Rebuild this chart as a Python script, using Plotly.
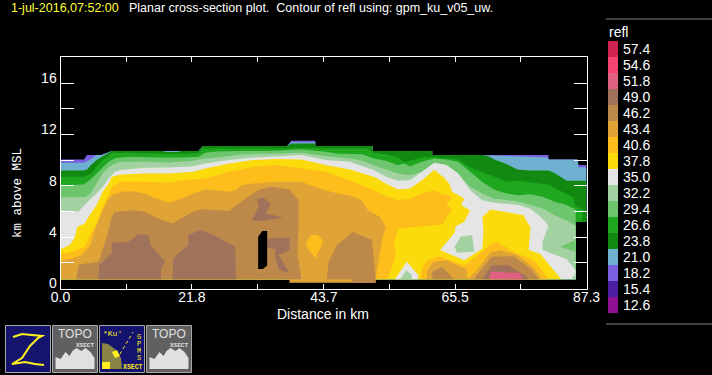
import plotly.graph_objects as go

# colour scale (legend top to bottom)
legend_labels = ["57.4","54.6","51.8","49.0","46.2","43.4","40.6","37.8","35.0","32.2","29.4","26.6","23.8","21.0","18.2","15.4","12.6"]
legend_colors = ["#D0234F","#F5446F","#DF6080","#A0725C","#BC894B","#E0A436","#FDBD1A","#FBDB0B","#E5E5E5","#A2D2A2","#6DC66D","#1FA81F","#128A12","#6FAFD0","#7A5FE0","#4B1FA0","#8F1090"]
COL = dict(zip(legend_labels, legend_colors))

x_ticks = [0, 10.91, 21.8, 32.74, 43.7, 54.56, 65.5, 76.39, 87.3]
x_text = ["0.0", "", "21.8", "", "43.7", "", "65.5", "", "87.3"]
y_ticks = [0, 2, 4, 6, 8, 10, 12, 14, 16, 18]
y_text = ["0", "", "4", "", "8", "", "12", "", "16", ""]

# contour outlines: (distance km, height km)
floor = [(85.5, .73), (0, .73)]
c18_2 = [(0,10.05),(3.9,10.05),(4.4,10.4),(6.8,10.4),(8.5,10.7),(22.9,10.7),(23.6,11.1),(37.6,11.1),(38.3,11.5),(42.3,11.5),(42.3,11.1),(51.8,11.1),(51.8,10.7),(61.7,10.7),(61.7,10.4),(81,10.4),(81,10.05),(85.8,10.05),(86,9.6),(87.3,9.6),(87.3,5.2),(85.5,5.2)]
c21_0 = [(0,9.8),(3.9,9.8),(4.8,10.0),(6,10.4),(6.8,10.4),(8.5,10.7),(22.9,10.7),(23.6,11.1),(37.6,11.1),(38.3,11.4),(42.3,11.4),(42.3,11.1),(51.8,11.1),(51.8,10.7),(61.7,10.7),(61.7,10.4),(72,10.35),(80.9,10.2),(81,10.05),(85.8,10.05),(86,9.45),(87.3,9.45),(87.3,5.2),(85.5,5.2)]
c23_8 = [(0,9.2),(3.9,9.2),(4.5,9.3),(5,9.6),(6,10),(7,10.3),(8,10.57),(8.5,10.7),(17,10.7),(17.5,10.63),(19.5,10.63),(20,10.7),(22.9,10.7),(23.6,11.1),(37.6,11.1),(38.3,11.3),(42.3,11.3),(42.3,11.1),(51.8,11.1),(51.8,10.7),(61.7,10.7),(61.7,10.4),(70,10.4),(71,10.3),(72,10.05),(74,9.7),(75.5,9.35),(76,9.25),(78,9.2),(81,9.2),(82,9.0),(84,8.4),(87.3,8.4),(87.3,5.2),(85.5,5.2)]
c26_6 = [(0,8.7),(3.9,8.7),(5,8.9),(6,9.5),(7,10),(8,10.3),(8.5,10.55),(12,10.55),(17,10.5),(20,10.5),(22.9,10.55),(23.6,10.9),(37.6,10.9),(40,10.95),(42.3,10.95),(44,10.9),(51,10.9),(52,10.55),(54,10.45),(56,10.2),(57,9.85),(58,9.95),(60,10.2),(61.7,10.25),(64,10.15),(66,10.05),(68,9.4),(70,9.05),(72,8.7),(74,8.3),(76,8.4),(78,8.25),(81,8.1),(83,7.6),(85,7.1),(85.5,6.4),(87.3,6.0),(87.3,5.2),(85.5,5.2)]
c29_4 = [(0,8.05),(3.9,8.1),(5,8.5),(6,8.96),(7,9.43),(8,9.87),(9,10.13),(10,10.2),(12,10.26),(16,10.2),(20,10.2),(22.9,10.26),(24,10.57),(26,10.67),(30,10.7),(36,10.73),(38,10.78),(40,10.83),(44,10.65),(46,10.5),(50,10.45),(52,10.13),(54,9.95),(56,9.6),(57,9.74),(58,9.5),(60,9.87),(62,10.13),(64,10.05),(66,9.87),(68,9.1),(70,8.3),(72,7.7),(74,7.4),(76,7.27),(78,7.35),(80,7.14),(82,6.75),(84,6.5),(85.5,6.15)]
c32_2 = [(0,7.1),(4,7.1),(5,7.4),(6,8.2),(7,8.96),(8,9.43),(9,9.74),(10,9.87),(14,9.87),(18,9.82),(20,9.87),(22,9.95),(24,10.13),(26,10.2),(30,10.44),(36,10.52),(40,10.57),(44,10.3),(48,10.13),(50,9.95),(52,9.6),(54,9.27),(56,8.96),(58,8.83),(60,9.09),(62,9.74),(64,9.66),(66,8.96),(68,7.92),(70,7.4),(72,7.0),(74,6.9),(76,6.75),(78,6.5),(80,6.23),(82,5.7),(84,5.3),(85.5,4.9)]
c35_0 = [(0,6.1),(3,6.0),(4,6.5),(5,7.0),(6,7.4),(7,7.9),(8,8.57),(9,9.09),(10,9.22),(14,9.4),(18,9.43),(22,9.53),(24,9.74),(28,10.0),(32,10.2),(36,10.3),(40,10.39),(44,10),(48,9.87),(52,9.22),(54,8.7),(56,8.39),(58,8.44),(60,9.09),(62,9.79),(64,9.61),(66,8.96),(68,7.66),(70,6.88),(72,6.67),(76,6.5),(78,6.2),(80,5.45),(81,4.86),(80.5,4.3),(80,3.6),(80,3.0),(84,2.3),(85.5,1.43)]
c37_8 = [(0,3.04),(1.5,3.38),(2.3,3.9),(2.8,4.8),(4,5.06),(5,5.84),(6,6.5),(7,7.53),(8,8.18),(8.5,8.7),(10,8.88),(14,8.96),(18,8.96),(22,9.09),(24,9.35),(28,9.74),(32,10.0),(36,10.08),(40,10.05),(44,9.61),(48,9.27),(52,8.7),(54,8.18),(56,7.71),(58,7.79),(60,8.44),(62,9.22),(63.5,8.7),(64.5,8.18),(65,7.53),(67,7.01),(66.5,6.5),(68,6.1),(67,5.19),(65.5,4.8),(65.5,4.4),(63,2.99),(67,2.2),(70,3.1),(70.2,4.55),(70,5.58),(71.4,6.16),(76.9,5.7),(77.4,5.2),(78,4.8),(77.7,3.0),(79.6,2.7),(83,.78),(83,.73),(0,.73)]
c40_6 = [(0,2.67),(2,2.86),(4,3.25),(5,4.29),(6,5.06),(7,6.36),(8,7.27),(8.5,7.92),(10,8.31),(14,8.31),(18,8.26),(20,8.44),(24,8.57),(28,9.09),(32,9.48),(36,9.61),(40,9.35),(44,9.09),(48,8.44),(50,8.05),(52,7.66),(54,7.2),(56,6.88),(58,7.0),(60,7.4),(62,7.66),(63,7.4),(64.5,7.27),(65,7.0),(64,6.67),(65,6.1),(64,5.53),(63.5,5.0),(62,4.93),(56.1,4.67),(55.3,3.51),(55.7,2.6),(54.3,.73),(0,.73)]
c40_6_hump = [(59.8,.73),(60,1.56),(60.8,2.16),(62.8,2.52),(67,1.82),(68.6,2.34),(71.3,3.38),(72.4,3.64),(75.2,2.86),(78.5,2.2),(79.9,1.43),(81,.73)]
c43_4 = [(0,2.16),(2,2.34),(3.5,2.6),(4,2.86),(5,3.38),(5.5,4.29),(6,4.94),(7,6.1),(8,7.0),(8.5,7.27),(10,7.53),(12,7.58),(14,7.4),(16,7.0),(18,6.67),(20,7.0),(22,7.4),(24,7.71),(26,7.66),(28,7.53),(29,7.66),(30,8.05),(32,8.18),(36,8.31),(40,8.31),(42,7.97),(44,7.66),(46,7.4),(48,7.27),(50,6.88),(51,6.1),(53,5.58),(54,4.8),(53.5,4.03),(53,2.73),(52.3,.73),(52.3,.44),(38,.44),(38,.73),(0,.73)]
c43_4_hump1 = [(60.8,.73),(60.9,1.43),(61.9,2.08),(64.1,2.2),(67.5,1.48),(67.5,.73)]
c43_4_hump2 = [(67.5,.73),(69.1,1.43),(71.3,2.78),(73,3.0),(75.8,2.6),(78.7,1.56),(79.9,.73)]
c40_6_blob = [(40.8,3.51),(41.5,4.16),(42.8,4.16),(43.6,3.64),(42.3,2.34),(40.9,3.25)]
c40_6_low = [(32.3,.73),(32.8,.86),(33.7,.86),(34,.73)]
c46_2 = [(2.6,.73),(3,1.87),(6.3,2.08),(7.5,3.77),(8,4.55),(8.5,5.58),(9,5.97),(12,6.1),(14,5.97),(16,5.5),(18.5,5.06),(20,5.45),(22,5.97),(23.5,6.18),(28,6.03),(30,6.75),(31.5,7.27),(33,7.71),(35,7.92),(38,7.71),(39.5,6.88),(39.5,4.8),(39.3,2.73),(40,.73)]
c46_2_hill = [(44.2,.73),(44.5,2.08),(45.9,3.38),(48.5,4.42),(51.7,3.77),(52.3,.73),(52.3,.44),(48.4,.44),(48.4,.73)]
c46_2_hump1 = [(61.7,.73),(61.7,1.3),(63.3,1.69),(65.3,.73)]
c46_2_hump2 = [(68.6,.73),(70.2,1.69),(71.6,2.47),(75.2,2.52),(78,1.56),(79.4,.73)]
c49_0_a = [(6.3,.73),(6.4,1.82),(8.5,2.73),(8.5,3.56),(11.3,3.64),(12.9,4.23),(14.6,4.16),(14.9,3.38),(17.4,2.08),(16.7,1.6),(16.7,.73)]
c49_0_b = [(18.6,.73),(18.7,2.34),(21.2,3.38),(21.2,4.16),(23.2,4.55),(25.4,4.16),(29,3.25),(29.1,.73)]
c49_0_c = [(32.6,7.0),(33.7,7.06),(34.9,6.62),(34.1,5.84),(37,5.53),(33.7,5.27),(31.8,5.32),(32.9,6.36)]
c49_0_d = [(34.2,3.9),(38,3.97),(38,2.99),(36.2,2.6),(38,1.17),(36.2,1.48),(35.6,2.6),(35.6,3.04),(34.2,3.19)]
c49_0_e = [(70,.73),(71.6,1.82),(74.4,1.82),(77.4,.91),(77.6,.73)]
c51_8 = [(71.2,.73),(71.4,1.3),(76.3,1.22),(76.7,.73)]
c23_8_patch = [(86.6,5.2),(86.6,6.0),(87.3,6.0),(87.3,5.2)]
c18_2_right = [(86,9.6),(87.3,9.6),(87.3,9.45),(86,9.5)]
c32_2_blob = [(65.4,3.25),(66.4,4.03),(68.3,4.16),(68.7,2.86),(65.8,2.78)]
c35_0_diamond = [(55.5,.73),(57.5,2.08),(59.4,1.04),(59.3,.73)]
c32_2_inner = [(56.4,.73),(57.4,1.43),(58.3,1.04),(58.3,.73)]
c29_4_patch = [(82.9,3.25),(85.5,3.77),(85.5,2.86)]
c32_2_corner = [(84.8,.73),(85.5,1.2),(85.5,.73)]
gap = [(32.8,1.51),(32.8,4.03),(33.5,4.47),(34.3,4.47),(34.3,1.8),(33.6,1.51)]

layers = [
    ("18.2", c18_2 + floor), ("21.0", c21_0 + floor), ("23.8", c23_8 + floor), ("26.6", c26_6 + floor),
    ("29.4", c29_4 + floor), ("23.8", c23_8_patch), ("32.2", c32_2 + floor), ("35.0", c35_0 + floor), ("18.2", c18_2_right),
    ("37.8", c37_8), ("40.6", c40_6), ("40.6", c40_6_hump), ("43.4", c43_4), ("43.4", c43_4_hump1), ("43.4", c43_4_hump2),
    ("40.6", c40_6_blob), ("40.6", c40_6_low), ("46.2", c46_2), ("46.2", c46_2_hill), ("46.2", c46_2_hump1), ("46.2", c46_2_hump2),
    ("49.0", c49_0_a), ("49.0", c49_0_b), ("49.0", c49_0_c), ("49.0", c49_0_d), ("49.0", c49_0_e), ("51.8", c51_8),
    ("32.2", c32_2_blob), ("35.0", c35_0_diamond), ("32.2", c32_2_inner), ("29.4", c29_4_patch), ("32.2", c32_2_corner),
]

W, H = 712, 375
fx = lambda p: p / W
fy = lambda p: 1 - p / H

fig = go.Figure()
for lev, poly in layers:
    fig.add_trace(go.Scatter(x=[p[0] for p in poly], y=[p[1] for p in poly], fill="toself", mode="none",
                             fillcolor=COL[lev], hoverinfo="skip", showlegend=False))
fig.add_trace(go.Scatter(x=[p[0] for p in gap], y=[p[1] for p in gap], fill="toself", mode="none",
                         fillcolor="#000000", hoverinfo="skip", showlegend=False))
fig.add_trace(go.Bar(x=[1] * len(legend_labels), y=legend_labels, orientation="h", width=1, xaxis="x2", yaxis="y2",
                     marker=dict(color=legend_colors, line=dict(width=0)), hoverinfo="skip", showlegend=False))

FONT = "Liberation Sans"
axis_common = dict(showgrid=False, zeroline=False, showline=True, linecolor="#ffffff", linewidth=1, mirror="allticks", automargin=False,
                   ticks="inside", tickcolor="#ffffff", tickwidth=1, tickfont=dict(family=FONT, size=14, color="#ffffff"), tickmode="array")
fig.update_layout(
    template="none",
    width=W, height=H, autosize=False, margin=dict(l=0, r=0, t=0, b=0, pad=0),
    paper_bgcolor="#000000", plot_bgcolor="#000000", bargap=0,
    xaxis=dict(domain=[fx(60.5), fx(586.5)], range=[0, 87.3], tickvals=x_ticks, ticktext=x_text, ticklen=5, ticklabelstandoff=-4, **axis_common),
    yaxis=dict(domain=[fy(288.5), fy(56.5)], range=[0, 18.07], tickvals=y_ticks, ticktext=y_text, ticklen=13, ticklabelshift=-5, **axis_common),
    xaxis2=dict(domain=[fx(608), fx(618)], range=[0, 1], visible=False, anchor="y2", automargin=False),
    yaxis2=dict(domain=[fy(313), fy(41)], anchor="x2", side="right", type="category", categoryorder="array",
                categoryarray=legend_labels[::-1], tickmode="array", tickvals=legend_labels, ticktext=legend_labels,
                showgrid=False, zeroline=False, showline=False, ticks="", automargin=False, ticklabelstandoff=4,
                tickfont=dict(family=FONT, size=14, color="#ffffff")),
)

ann = [
    dict(text="1-jul-2016,07:52:00", x=fx(9), y=fy(8), color="#FFFF33", size=12.5),
    dict(text="Planar cross-section plot.\u00a0\u00a0Contour of refl using: gpm_ku_v05_uw.", x=fx(127), y=fy(8), color="#ffffff", size=12.5),
    dict(text="refl", x=fx(607), y=fy(32), color="#ffffff", size=14),
    dict(text="Distance in km", x=fx(275), y=fy(314), color="#ffffff", size=14),
]
for a in ann:
    fig.add_annotation(text=a["text"], x=a["x"], y=a["y"], xref="paper", yref="paper", xanchor="left", yanchor="middle",
                       showarrow=False, font=dict(family=FONT, size=a["size"], color=a["color"]))

def ptext(t, x, y, color, size, fam=FONT, angle=0):
    fig.add_annotation(text=t, x=fx(x), y=fy(y), xref="paper", yref="paper", xanchor="center", yanchor="middle",
                       textangle=angle, showarrow=False, borderpad=0, font=dict(family=fam, size=size, color=color))

ptext("km above MSL", 18, 193, "#ffffff", 12.5, "Liberation Mono", -90)

def pbox(x0, y0, x1, y1, fill, line="#a8a8a8"):
    fig.add_shape(type="rect", xref="paper", yref="paper", x0=fx(x0), x1=fx(x1), y0=fy(y0), y1=fy(y1),
                  fillcolor=fill, line=dict(color=line, width=1), layer="above")

def ppath(pts, fill=None, line=None, w=1, dash="solid"):
    d = "M " + " L ".join(f"{fx(a):.5f},{fy(b):.5f}" for a, b in pts) + (" Z" if fill else "")
    fig.add_shape(type="path", xref="paper", yref="paper", path=d, fillcolor=fill or "rgba(0,0,0,0)",
                  line=dict(color=line or "rgba(0,0,0,0)", width=w, dash=dash), layer="above")

# separators
ppath([(606, 19), (712, 19)], line="#808080")
ppath([(606, 324), (712, 324)], line="#808080")

# icon buttons
pbox(5.5, 325.5, 50.5, 372.5, "#14146e")
ppath([(13, 337), (22, 334), (32, 335), (42, 336), (38, 338), (30, 346), (22, 358), (12, 364), (25, 362), (35, 364), (44, 365)], line="#FFF01E", w=2)
for bx in (52.5, 146.5):
    pbox(bx, 325.5, bx + 45, 372.5, "#606060")
    ppath([(bx+3, 369), (bx+3, 357), (bx+8, 359), (bx+13, 352), (bx+17, 356), (bx+20, 351), (bx+24, 348), (bx+29, 351), (bx+33, 348), (bx+38, 352), (bx+42, 358), (bx+42, 369)], fill="#E0E0E0")
    ptext("TOPO", bx + 22, 334, "#E0E0E0", 12)
    ptext("<b>XSECT</b>", bx + 32, 345, "#E0E0E0", 6, "Liberation Mono")
pbox(99.5, 325.5, 144.5, 372.5, "#14146e")
ppath([(102, 343), (108, 344), (115, 349), (121, 358), (122, 369), (102, 369)], fill="#8A8346")
ppath([(102, 362), (110, 362), (110, 369), (102, 369)], fill="#FFF01E")
ppath([(112, 352), (117, 350), (120, 356), (115, 358)], fill="#FFF01E")
ppath([(120, 354), (133, 332)], line="#FFF01E", w=1, dash="dot")
ptext("*Ku'", 112, 333, "#FFF01E", 8, "Liberation Mono")
for i, ch in enumerate("GPMS"):
    ptext(ch, 139, 337 + i * 7, "#FFF01E", 7, "Liberation Mono")
ptext("<b>XSECT</b>", 133, 367, "#FFF01E", 6.5, "Liberation Mono")

fig.write_html("out.html", config=dict(displayModeBar=False, responsive=False),
               post_script="document.body.style.margin='0';document.body.style.background='#000';document.body.style.overflow='hidden';")
